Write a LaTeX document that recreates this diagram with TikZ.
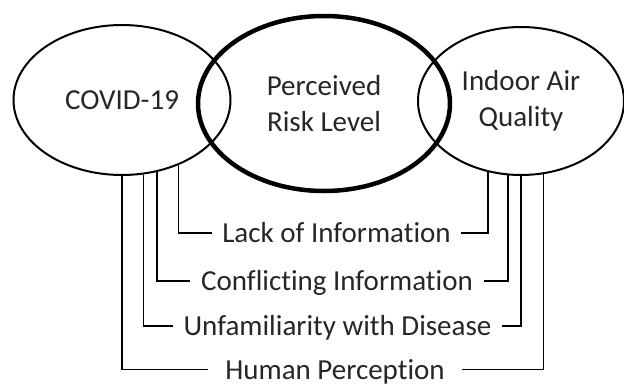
\documentclass[tikz,border=0pt]{standalone}
\usepackage{fontspec}
\setmainfont{Carlito}[Ligatures=NoCommon]
\usetikzlibrary{shapes.geometric}
\begin{document}
\begin{tikzpicture}[x=1pt,y=-1pt, every node/.style={font=\fontsize{29}{36}\selectfont, text=black!85},
	bubble/.style={ellipse, draw, line width=2pt, inner sep=0pt, align=center},
	factor/.style={text height=19pt, text depth=0pt, inner xsep=10.5pt, inner ysep=0pt},
	link/.style={line width=1.3pt}]
			\useasboundingbox (0,0) rectangle (624,386);
			% the three circles
			\node[bubble, minimum width=217pt, minimum height=150pt] (covid) at (122,100) {COVID-19};
			\node[bubble, minimum width=206pt, minimum height=148pt] (iaq) at (521,101) {Indoor Air\\Quality};
			\node[bubble, line width=4.5pt, minimum width=252pt, minimum height=175pt] (risk) at (324,103.5) {Perceived\\Risk Level};
			% factors
			\node[factor] (lack) at (336.5,233) {Lack of Information};
			\node[factor] (conf) at (337,281) {Conflicting Information};
			\node[factor] (unfam) at (337.5,326) {Unfamiliarity with Disease};
			\node[factor, inner xsep=17pt] (human) at (335,369.5) {Human Perception};
			% links to COVID-19
			\draw[link] (covid.-49.6) |- (lack.west);
			\draw[link] (covid.-64.5) |- (conf.west);
			\draw[link] (covid.-74.1) |- (unfam.west);
			\draw[link] (covid.-90) |- (human.west);
			% links to indoor air quality
			\draw[link] (iaq.-115.2) |- (lack.east);
			\draw[link] (iaq.-100) |- (conf.east);
			\draw[link] (iaq.-90) |- (unfam.east);
			\draw[link] (iaq.-73.1) |- (human.east);
\end{tikzpicture}
\end{document}
